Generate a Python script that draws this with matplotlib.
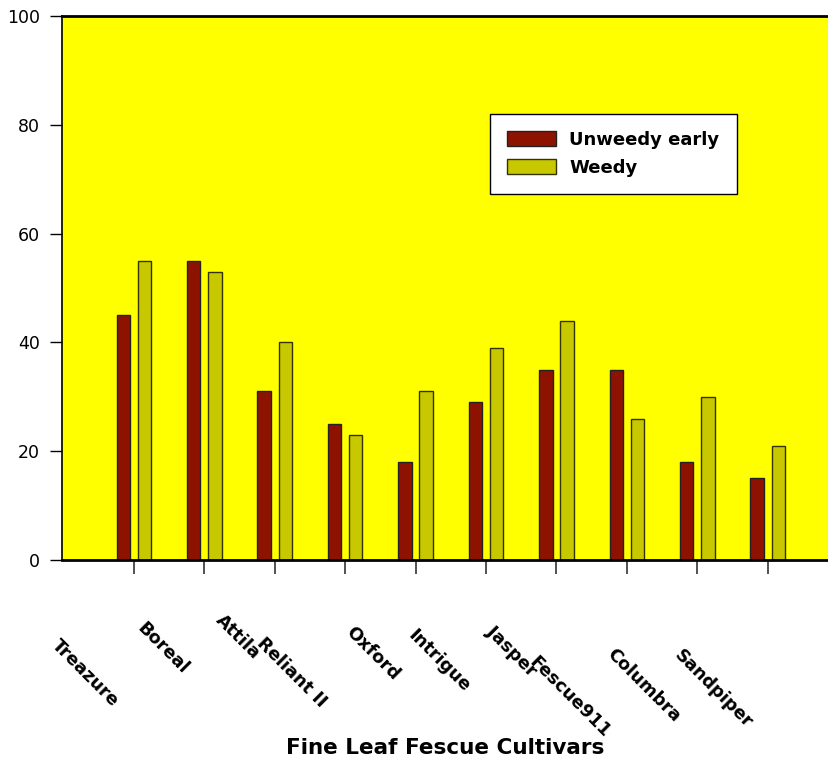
import numpy as np
import matplotlib
matplotlib.use("Agg")
import matplotlib.pyplot as plt

# percent cover per cultivar
cultivars = ["Treazure", "Boreal", "Attila", "Reliant II", "Oxford",
             "Intrigue", "Jasper", "Fescue911", "Columbra", "Sandpiper"]
unweedy_early = [45, 55, 31, 25, 18, 29, 35, 35, 18, 15]
weedy = [55, 53, 40, 23, 31, 39, 44, 26, 30, 21]

# hand placed centres (pixels) for the slanted category names
label_xy = [(85, 673), (163, 648), (238, 637), (292, 672), (373, 653),
            (439, 661), (512, 651), (570, 697), (644, 685), (713, 689)]

W, H = 829, 768
fig = plt.figure(figsize=(W / 100, H / 100), dpi=100)
ax = fig.add_axes([62 / W, (H - 560) / H, (W - 62) / W, 544 / H])
ax.set_facecolor("#FFFF00")

x = np.arange(len(cultivars))
bw = 0.19
ax.bar(x - 0.15, unweedy_early, bw, color="#8E1200", edgecolor="#222222",
       linewidth=1, label="Unweedy early", zorder=2)
ax.bar(x + 0.15, weedy, bw, color="#C8C800", edgecolor="#333300",
       linewidth=1, label="Weedy", zorder=2)

ax.set_xlim(-1.02, 9.87)
ax.set_ylim(0, 100)
ax.set_yticks(range(0, 101, 20))
ax.set_xticks(x)
ax.set_xticklabels([])
ax.tick_params(axis="y", direction="out", length=9, width=1, pad=7,
               labelsize=12.5, colors="black")
ax.tick_params(axis="x", direction="out", length=10, width=1.2,
               color="#333333")

ax.spines["right"].set_visible(False)
ax.spines["bottom"].set_linewidth(2)
ax.spines["top"].set_linewidth(2)
ax.spines["left"].set_linewidth(1.2)

for name, (px, py) in zip(cultivars, label_xy):
    fig.text(px / W, 1 - py / H, name, rotation=-45, rotation_mode="anchor",
             ha="center", va="center", fontsize=12.8, fontweight="bold")

fig.text(445 / W, 1 - 748 / H, "Fine Leaf Fescue Cultivars",
         ha="center", va="center", fontsize=15.5, fontweight="bold")

leg = ax.legend(loc="upper left", bbox_to_anchor=(490 / W, 1 - 114 / H),
                bbox_transform=fig.transFigure, fancybox=False, frameon=True,
                framealpha=1, edgecolor="black",
                prop={"weight": "bold", "size": 13},
                handlelength=2.72, handleheight=0.89, handletextpad=0.72,
                labelspacing=0.55, borderpad=0.95, borderaxespad=0)
leg.get_frame().set_linewidth(1)

fig.savefig("out.png", dpi=100)
